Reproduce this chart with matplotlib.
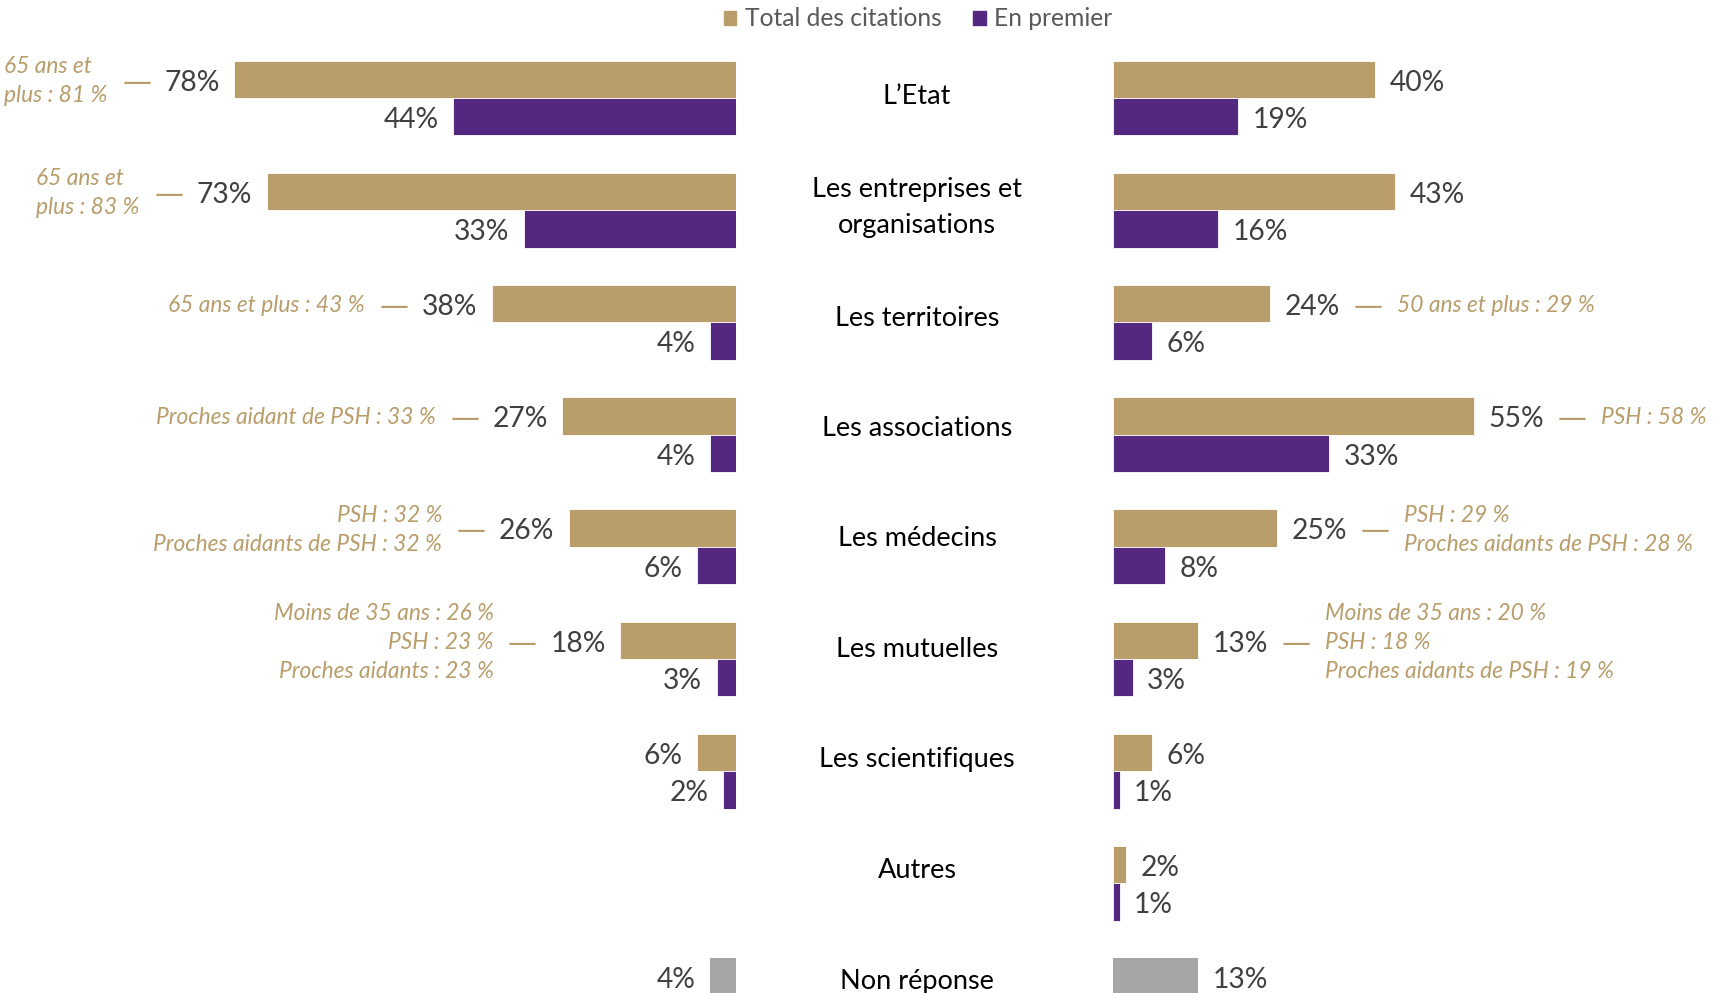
import matplotlib.pyplot as plt
from matplotlib.patches import Patch

plt.rcParams['font.family'] = ['Lato', 'DejaVu Sans']

categories = ["L’Etat", "Les entreprises et\norganisations", "Les territoires",
              "Les associations", "Les médecins", "Les mutuelles",
              "Les scientifiques", "Autres", "Non réponse"]

# left block / right block, None = no bar
left_total = [78, 73, 38, 27, 26, 18, 6, None, None]
left_first = [44, 33, 4, 4, 6, 3, 2, None, None]
right_total = [40, 43, 24, 55, 25, 13, 6, 2, None]
right_first = [19, 16, 6, 33, 8, 3, 1, 1, None]
left_nr = 4
right_nr = 13

left_notes = {
    0: "65 ans et\nplus : 81 %",
    1: "65 ans et\nplus : 83 %",
    2: "65 ans et plus : 43 %",
    3: "Proches aidant de PSH : 33 %",
    4: "PSH : 32 %\nProches aidants de PSH : 32 %",
    5: "Moins de 35 ans : 26 %\nPSH : 23 %\nProches aidants : 23 %",
}
left_notes_align = {0: 'left', 1: 'left'}
right_notes = {
    2: "50 ans et plus : 29 %",
    3: "PSH : 58 %",
    4: "PSH : 29 %\nProches aidants de PSH : 28 %",
    5: "Moins de 35 ans : 20 %\nPSH : 18 %\nProches aidants de PSH : 19 %",
}

TAN = '#B99D6B'
PURPLE = '#542781'
GREY = '#A6A6A6'
VAL_COL = '#404040'

W, H = 1725, 993
fig = plt.figure(figsize=(W / 100, H / 100), dpi=100)

zl, zr = 736, 1113          # pixel of the 0 line of each block
px_l, px_r = 6.43, 6.56     # pixels per percent
top, pitch = 98, 112.2
h = 0.333

axl = fig.add_axes([0, 0, zl / W, 1])
axl.set_xlim(zl / px_l, 0)
axr = fig.add_axes([zr / W, 0, 1 - zr / W, 1])
axr.set_xlim(0, (W - zr) / px_r)
for ax in (axl, axr):
    ax.set_ylim((H - top) / pitch, -top / pitch)
    ax.axis('off')

axc = fig.add_axes([0, 0, 1, 1])
axc.set_xlim(0, 1)
axc.set_ylim((H - 97) / 110.5, -97 / 110.5)
axc.axis('off')

val_kw = dict(fontsize=20.3, color=VAL_COL, va='center', textcoords='offset points')
note_kw = dict(fontsize=16.4, color=TAN, style='italic', va='center',
               textcoords='offset points', linespacing=1.47)


def draw_side(ax, totals, firsts, nr, notes, side):
    sgn = -1 if side == 'left' else 1
    ha = 'right' if side == 'left' else 'left'
    anchor = (0, 0.5) if side == 'left' else (1, 0.5)
    for i, (t, f) in enumerate(zip(totals, firsts)):
        if t is not None:
            ax.barh(i - h / 2, t, height=h, color=TAN, edgecolor='white', linewidth=0.6)
            v = ax.annotate(f"{t}%", (t, i - h / 2), xytext=(sgn * 10.5, -2.4), ha=ha, **val_kw)
            if i in notes:
                d = ax.annotate("—", anchor, xycoords=v, xytext=(sgn * 9.5, 0), ha=ha,
                                textcoords='offset points', va='center', fontsize=21,
                                family='DejaVu Sans', color=TAN)
                al = left_notes_align.get(i, ha) if side == 'left' else 'left'
                ax.annotate(notes[i], anchor, xycoords=d, xytext=(sgn * 10.5, 1), ha=ha,
                            multialignment=al, **note_kw)
        if f is not None:
            ax.barh(i + h / 2, f, height=h, color=PURPLE, edgecolor='white', linewidth=0.6)
            ax.annotate(f"{f}%", (f, i + h / 2), xytext=(sgn * 10.5, -2.4), ha=ha, **val_kw)
    n = len(categories) - 1
    ax.barh(n - h / 2, nr, height=h, color=GREY)
    ax.annotate(f"{nr}%", (nr, n - h / 2), xytext=(sgn * 10.5, -2.4), ha=ha, **val_kw)


draw_side(axl, left_total, left_first, left_nr, left_notes, 'left')
draw_side(axr, right_total, right_first, right_nr, right_notes, 'right')

for i, c in enumerate(categories):
    axc.text(917 / W, i, c, ha='center', va='center', fontsize=19.5,
             color='black', linespacing=1.55)

handles = [Patch(color=TAN), Patch(color=PURPLE)]
fig.legend(handles, ["Total des citations", "En premier"], loc='center',
           bbox_to_anchor=(918 / W, 1 - 19 / H), ncol=2, frameon=False,
           fontsize=17.7, labelcolor='#595959', handlelength=0.5, handleheight=0.5,
           handletextpad=0.35, columnspacing=1.3)

fig.savefig("out.png", dpi=100)
